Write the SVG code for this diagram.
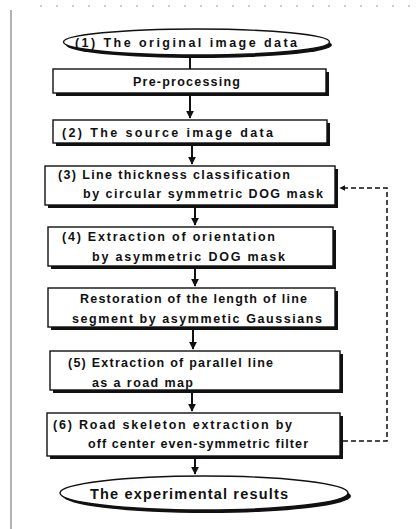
<svg xmlns="http://www.w3.org/2000/svg" width="416" height="529" viewBox="0 0 416 529">
<defs>
<style>
.box{fill:#fff;stroke:#111;stroke-width:1.4}
.sh{fill:#111}
.t{font-family:"Liberation Sans",Arial,sans-serif;font-weight:bold;font-size:12.5px;fill:#111}
.tl{font-family:"Liberation Sans",Arial,sans-serif;font-weight:bold;font-size:14.5px;fill:#111}
.c{stroke:#111;stroke-width:2;fill:none}
.d{stroke:#111;stroke-width:1.5;fill:none;stroke-dasharray:5,3}
</style>
<marker id="ah" viewBox="0 0 10 10" refX="9" refY="5" markerWidth="4" markerHeight="4" orient="auto-start-reverse">
<path d="M0,0 L10,5 L0,10 z" fill="#111"/>
</marker>
</defs>
<rect width="416" height="529" fill="#fff"/>
<g id="scan">
<line x1="11" y1="10" x2="11" y2="529" stroke="#666" stroke-width="1"/>
<line x1="40" y1="6" x2="416" y2="6" stroke="#999" stroke-width="1" stroke-dasharray="2,14"/>
</g>
<g id="connectors">
<line class="c" x1="190" y1="56" x2="190" y2="69" stroke-width="3"/>
<line class="c" x1="190" y1="96" x2="190" y2="118" marker-end="url(#ah)"/>
<line class="c" x1="192" y1="146" x2="192" y2="164" marker-end="url(#ah)"/>
<line class="c" x1="195" y1="208" x2="195" y2="225" marker-end="url(#ah)"/>
<line class="c" x1="195" y1="269" x2="195" y2="286" marker-end="url(#ah)"/>
<line class="c" x1="193" y1="330" x2="193" y2="349" marker-end="url(#ah)"/>
<line class="c" x1="192" y1="393" x2="192" y2="411" marker-end="url(#ah)"/>
<line class="c" x1="195" y1="459" x2="195" y2="474" marker-end="url(#ah)"/>
<path class="d" d="M343,441 H387 V188 H340" marker-end="url(#ah)"/>
</g>
<g id="n1">
<ellipse class="sh" cx="199" cy="45" rx="133" ry="13"/>
<ellipse class="box" cx="196.5" cy="42" rx="133" ry="13"/>
<text class="t" x="75" y="46.5" textLength="222" lengthAdjust="spacing">(1)  The original image data</text>
</g>
<g id="pre">
<rect class="sh" x="56" y="72" width="273" height="24"/>
<rect class="box" x="53" y="69" width="273" height="24"/>
<text class="t" x="133" y="85.5" textLength="107" lengthAdjust="spacing">Pre-processing</text>
</g>
<g id="n2">
<rect class="sh" x="56" y="123" width="274" height="23"/>
<rect class="box" x="53" y="120" width="274" height="23"/>
<text class="t" x="62" y="136.5" textLength="211" lengthAdjust="spacing">(2)    The source image data</text>
</g>
<g id="n3">
<rect class="sh" x="48" y="169" width="290" height="39"/>
<rect class="box" x="45" y="166" width="290" height="39"/>
<text class="t" x="58" y="178.5" textLength="232" lengthAdjust="spacing">(3) Line thickness  classification</text>
<text class="t" x="83" y="197.5" textLength="240" lengthAdjust="spacing">by circular  symmetric DOG mask</text>
</g>
<g id="n4">
<rect class="sh" x="51" y="230" width="285" height="39"/>
<rect class="box" x="48" y="227" width="285" height="39"/>
<text class="t" x="62" y="240.5" textLength="213" lengthAdjust="spacing">(4)  Extraction  of  orientation</text>
<text class="t" x="92" y="260.5" textLength="193" lengthAdjust="spacing">by  asymmetric DOG mask</text>
</g>
<g id="restoration">
<rect class="sh" x="51" y="291" width="287" height="39"/>
<rect class="box" x="48" y="288" width="287" height="39"/>
<text class="t" x="80" y="302.5" textLength="227" lengthAdjust="spacing">Restoration of the length of line</text>
<text class="t" x="72" y="322.5" textLength="250" lengthAdjust="spacing">segment by asymmetic Gaussians</text>
</g>
<g id="n5">
<rect class="sh" x="53" y="354" width="290" height="39"/>
<rect class="box" x="50" y="351" width="290" height="39"/>
<text class="t" x="68" y="366.5" textLength="205" lengthAdjust="spacing">(5)  Extraction of parallel line</text>
<text class="t" x="92" y="386.5" textLength="101" lengthAdjust="spacing">as a road map</text>
</g>
<g id="n6">
<rect class="sh" x="50" y="416" width="293" height="43"/>
<rect class="box" x="47" y="413" width="293" height="43"/>
<text class="t" x="53" y="428.5" textLength="239" lengthAdjust="spacing">(6)   Road skeleton extraction by</text>
<text class="t" x="88" y="447.5" textLength="220" lengthAdjust="spacing">off center even-symmetric filter</text>
</g>
<g id="results">
<ellipse class="sh" cx="207" cy="496" rx="144" ry="17"/>
<ellipse class="box" cx="204" cy="493" rx="144" ry="17"/>
<text class="tl" x="90" y="499" textLength="198" lengthAdjust="spacing">The experimental   results</text>
</g>
</svg>
